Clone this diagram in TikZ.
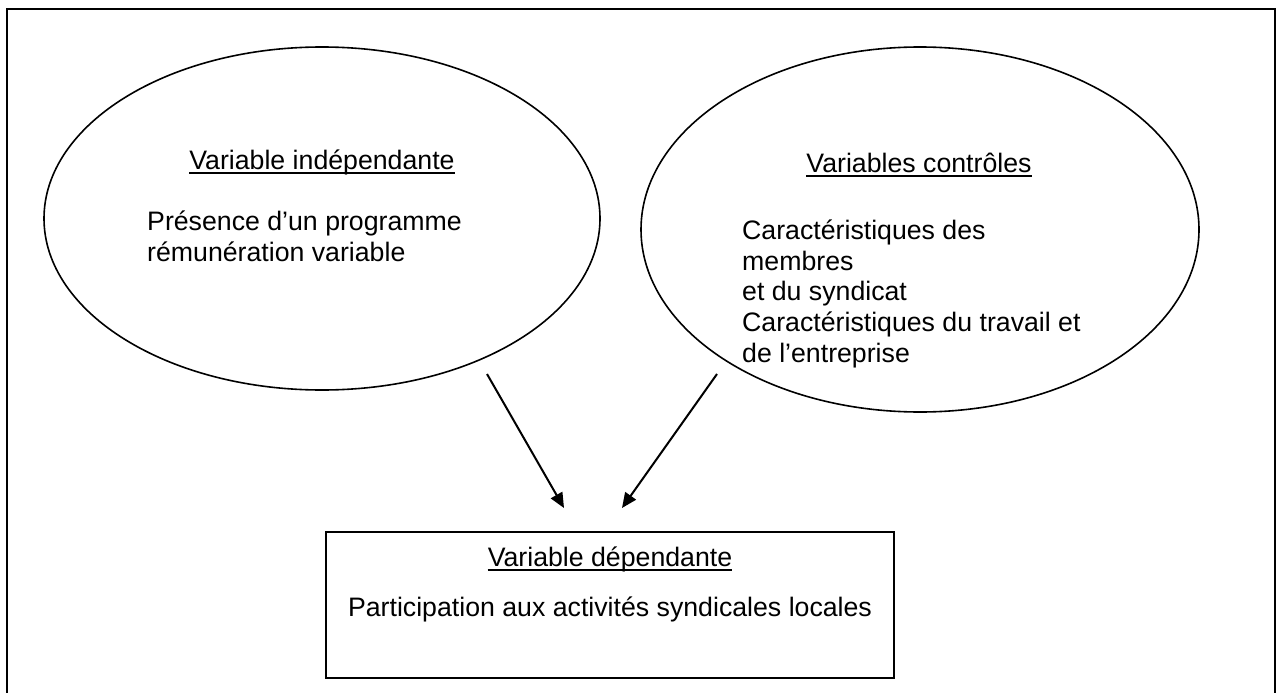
\documentclass[tikz,border=0pt]{standalone}
\usepackage{fontspec}
\setmainfont{Liberation Sans}
\usetikzlibrary{shapes.geometric,arrows.meta}
\begin{document}
\begin{tikzpicture}[x=1pt,y=-1pt,
  txt/.style={font=\fontsize{26.7pt}{30.7pt}\selectfont, inner sep=0pt, anchor=base west},
  head/.style={font=\fontsize{26.7pt}{30.7pt}\selectfont, inner sep=0pt, anchor=base},
  uline/.style={line width=1.3pt},
  oval/.style={draw, ellipse, line width=1.6pt, inner sep=0pt, outer sep=0pt},
  framelines/.style={line width=2.2pt},
  dbox/.style={draw, line width=2pt, inner sep=0pt, outer sep=0pt, minimum width=568pt, minimum height=146pt, anchor=north},
  arr/.style={line width=2pt, -{Triangle[length=15pt,width=13pt]}},
]
\useasboundingbox (0,0) rectangle (1277,693);
\coordinate (f1) at (7,700);
\coordinate (f2) at (7,9);
\coordinate (f3) at (1275,9);
\coordinate (f4) at (1275,700);
\draw[framelines] (f1) -- (f2) -- (f3) -- (f4);

\node[oval, minimum width=556pt, minimum height=343pt] (ovL) at (322,218.5) {};
\node[oval, minimum width=558pt, minimum height=365pt] (ovR) at (920,229.5) {};
\node[dbox] (box) at (610,532) {};

\node[head] (hL) at (322,169) {Variable indépendante};
\draw[uline] ([yshift=-4pt]hL.base west) -- ([yshift=-4pt]hL.base east);
\node[txt] (tL1) at (147,230) {Présence d’un programme};
\node[txt] (tL2) at (147,261) {rémunération variable};

\node[head] (hR) at (919,172) {Variables contrôles};
\draw[uline] ([yshift=-4pt]hR.base west) -- ([yshift=-4pt]hR.base east);
\node[txt] (tR1) at (742,239) {Caractéristiques des};
\node[txt] (tR2) at (742,270) {membres};
\node[txt] (tR3) at (742,300.5) {et du syndicat};
\node[txt] (tR4) at (742,331) {Caractéristiques du travail et};
\node[txt] (tR5) at (742,362) {de l’entreprise};

\node[head] (hB) at (610,566) {Variable dépendante};
\draw[uline] ([yshift=-4pt]hB.base west) -- ([yshift=-4pt]hB.base east);
\node[head] (tB) at (610,616) {Participation aux activités syndicales locales};

\coordinate (a1s) at (487,374);
\coordinate (a1e) at (564,508);
\coordinate (a2s) at (717,374);
\coordinate (a2e) at (622,508);
\draw[arr] (a1s) -- (a1e);
\draw[arr] (a2s) -- (a2e);
\end{tikzpicture}
\end{document}
